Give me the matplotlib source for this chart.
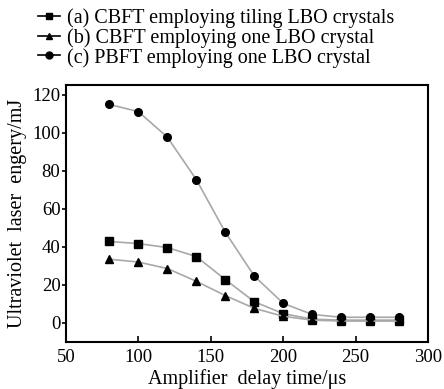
import matplotlib
matplotlib.use('Agg')
import matplotlib.pyplot as plt

plt.rcParams['font.family'] = ['Liberation Serif', 'DejaVu Serif']

delay = [80, 100, 120, 140, 160, 180, 200, 220, 240, 260, 280]
tiling = [42.8, 41.7, 39.6, 34.9, 22.8, 11.2, 4.9, 2.0, 1.5, 1.5, 1.5]
one_cbft = [33.5, 32.0, 28.6, 21.9, 14.4, 7.7, 3.5, 1.5, 1.0, 1.0, 1.0]
one_pbft = [114.8, 111.0, 97.6, 75.3, 47.7, 24.7, 10.3, 4.5, 3.0, 3.0, 3.0]
labels = ['(a) CBFT employing tiling LBO crystals',
          '(b) CBFT employing one LBO crystal',
          '(c) PBFT employing one LBO crystal']

fig = plt.figure(figsize=(4.44, 3.89), dpi=100)
ax = fig.add_axes([0.1486, 0.1208, 0.8154, 0.6607])

lc = '#a8a8a8'
ax.plot(delay, tiling, color=lc, lw=1.2, marker='s', ms=5.5, mfc='black', mec='black', label=labels[0])
ax.plot(delay, one_cbft, color=lc, lw=1.2, marker='^', ms=6, mfc='black', mec='black', label=labels[1])
ax.plot(delay, one_pbft, color=lc, lw=1.2, marker='o', ms=5.5, mfc='black', mec='black', label=labels[2])

ax.set_xlim(50, 300)
ax.set_ylim(-10, 125)
ax.set_xticks([50, 100, 150, 200, 250, 300])
ax.set_yticks([0, 20, 40, 60, 80, 100, 120])
ax.tick_params(axis='x', direction='in', labelsize=13.5, length=4, width=1.2, pad=5)
ax.tick_params(axis='y', direction='out', labelsize=13.5, length=3, width=1.2, pad=1)
for s in ax.spines.values():
    s.set_linewidth(1.5)

ax.set_xlabel('Amplifier  delay time/μs', fontsize=14.5, labelpad=2)
ax.set_ylabel('Ultraviolet  laser  engery/mJ', fontsize=14.5, labelpad=4)

# legend sits above the plot box, no frame
leg = ax.legend(loc='lower left', bbox_to_anchor=(-0.077, 1.068), frameon=False,
                fontsize=14.5, handlelength=1.1, handletextpad=0.35,
                labelspacing=0.0, borderaxespad=0, borderpad=0)
for h in leg.legend_handles:
    h.set_color('black')
    h.set_markersize(5)

fig.savefig('out.png', dpi=100)
